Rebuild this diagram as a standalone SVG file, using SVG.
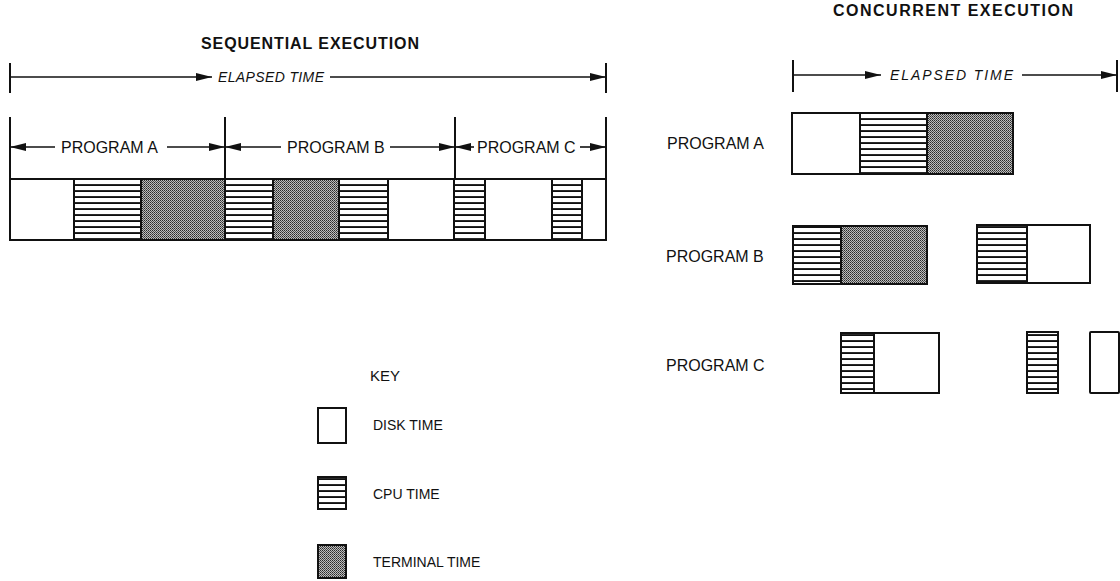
<svg xmlns="http://www.w3.org/2000/svg" width="1120" height="581" viewBox="0 0 1120 581">
<defs>
<pattern id="cpu" patternUnits="userSpaceOnUse" width="8" height="6">
<rect width="8" height="6" fill="#fff"/>
<rect y="4.1" width="8" height="1.9" fill="#111"/>
</pattern>
<pattern id="term" patternUnits="userSpaceOnUse" width="2" height="2">
<rect width="2" height="2" fill="#bdbdbd"/>
<rect width="1" height="1" fill="#2a2a2a"/>
<rect x="1" y="1" width="1" height="1" fill="#505050"/>
</pattern>
<marker id="ah" viewBox="0 0 16 9" refX="16" refY="4.5" markerWidth="16" markerHeight="9" markerUnits="userSpaceOnUse" orient="auto">
<path d="M0,0.5 L16,4.5 L0,8.5 Z" fill="#111"/>
</marker>
</defs>
<style>
text{font-family:"Liberation Sans",Arial,sans-serif;fill:#111}
.title{font-size:16px;font-weight:bold}
.el{font-size:14px;font-style:italic}
.lbl{font-size:16px}
.key{font-size:14px}
.tick{stroke:#111;stroke-width:2;fill:none}
.arr{stroke:#111;stroke-width:1.6;fill:none;marker-end:url(#ah)}
.disk{fill:#fff;stroke:#111;stroke-width:2}
.cpu{fill:url(#cpu);stroke:#111;stroke-width:2}
.term{fill:url(#term);stroke:#111;stroke-width:2}
</style>
<rect width="1120" height="581" fill="#fff"/>

<g id="sequential-title"><text class="title" x="310" y="49" text-anchor="middle" textLength="218" lengthAdjust="spacing">SEQUENTIAL EXECUTION</text></g>
<g id="concurrent-title"><text class="title" x="953" y="16" text-anchor="middle" textLength="240" lengthAdjust="spacing">CONCURRENT EXECUTION</text></g>

<g id="connectors">
<line class="tick" x1="10" y1="63" x2="10" y2="93"/>
<line class="tick" x1="606" y1="63" x2="606" y2="93" stroke-width="2.5"/>
<line class="arr" x1="10" y1="77" x2="212" y2="77"/>
<line class="arr" x1="330" y1="77" x2="606" y2="77"/>

<line class="tick" x1="10" y1="117" x2="10" y2="179"/>
<line class="tick" x1="225" y1="117" x2="225" y2="179"/>
<line class="tick" x1="455" y1="117" x2="455" y2="179"/>
<line class="tick" x1="606" y1="117" x2="606" y2="179" stroke-width="2.5"/>
<line class="arr" x1="55" y1="147" x2="10" y2="147"/>
<line class="arr" x1="167" y1="147" x2="225" y2="147"/>
<line class="arr" x1="281" y1="147" x2="225" y2="147"/>
<line class="arr" x1="390" y1="147" x2="455" y2="147"/>
<line class="arr" x1="474" y1="147" x2="455" y2="147"/>
<line class="arr" x1="580" y1="147" x2="606" y2="147"/>

<line class="tick" x1="793" y1="60" x2="793" y2="92"/>
<line class="tick" x1="1117" y1="60" x2="1117" y2="92" stroke-width="2.5"/>
<line class="arr" x1="793" y1="75" x2="881" y2="75"/>
<line class="arr" x1="1022" y1="75" x2="1117" y2="75"/>
</g>

<g id="sequential-labels">
<text class="el" x="218" y="82" textLength="106" lengthAdjust="spacing">ELAPSED TIME</text>
<text class="lbl" x="61" y="153">PROGRAM A</text>
<text class="lbl" x="287" y="153">PROGRAM B</text>
<text class="lbl" x="477" y="153">PROGRAM C</text>
</g>

<g id="sequential-bar">
<rect class="disk" x="10" y="179" width="64" height="61"/>
<rect class="cpu" x="74" y="179" width="67" height="61"/>
<rect class="term" x="141" y="179" width="84" height="61"/>
<rect class="cpu" x="225" y="179" width="48" height="61"/>
<rect class="term" x="273" y="179" width="66" height="61"/>
<rect class="cpu" x="339" y="179" width="49" height="61"/>
<rect class="disk" x="388" y="179" width="66" height="61"/>
<rect class="cpu" x="454" y="179" width="31" height="61"/>
<rect class="disk" x="485" y="179" width="67" height="61"/>
<rect class="cpu" x="552" y="179" width="30" height="61"/>
<rect class="disk" x="582" y="179" width="24" height="61"/>
</g>

<g id="concurrent-elapsed"><text class="el" x="890" y="80" textLength="123" lengthAdjust="spacing">ELAPSED TIME</text></g>

<g id="concurrent-program-a">
<text class="lbl" x="667" y="149">PROGRAM A</text>
<rect class="disk" x="792" y="113" width="68" height="61"/>
<rect class="cpu" x="860" y="113" width="67" height="61"/>
<rect class="term" x="927" y="113" width="86" height="61"/>
</g>

<g id="concurrent-program-b">
<text class="lbl" x="666" y="262">PROGRAM B</text>
<rect class="cpu" x="793" y="226" width="48" height="58"/>
<rect class="term" x="841" y="226" width="86" height="58"/>
<rect class="cpu" x="977" y="225" width="50" height="58"/>
<rect class="disk" x="1027" y="225" width="63" height="58"/>
</g>

<g id="concurrent-program-c">
<text class="lbl" x="666" y="371">PROGRAM C</text>
<rect class="cpu" x="841" y="333" width="33" height="60"/>
<rect class="disk" x="874" y="333" width="65" height="60"/>
<rect class="cpu" x="1027" y="332" width="31" height="61"/>
<rect class="disk" x="1090" y="332" width="29" height="61" rx="1"/>
</g>

<g id="key">
<text class="lbl" x="370" y="381" style="font-size:15px">KEY</text>
<rect class="disk" x="318" y="408" width="28" height="35"/>
<text class="key" x="373" y="430">DISK TIME</text>
<rect class="cpu" x="318" y="477" width="28" height="32"/>
<text class="key" x="373" y="499">CPU TIME</text>
<rect class="term" x="318" y="545" width="28" height="33"/>
<text class="key" x="373" y="567">TERMINAL TIME</text>
</g>
</svg>
